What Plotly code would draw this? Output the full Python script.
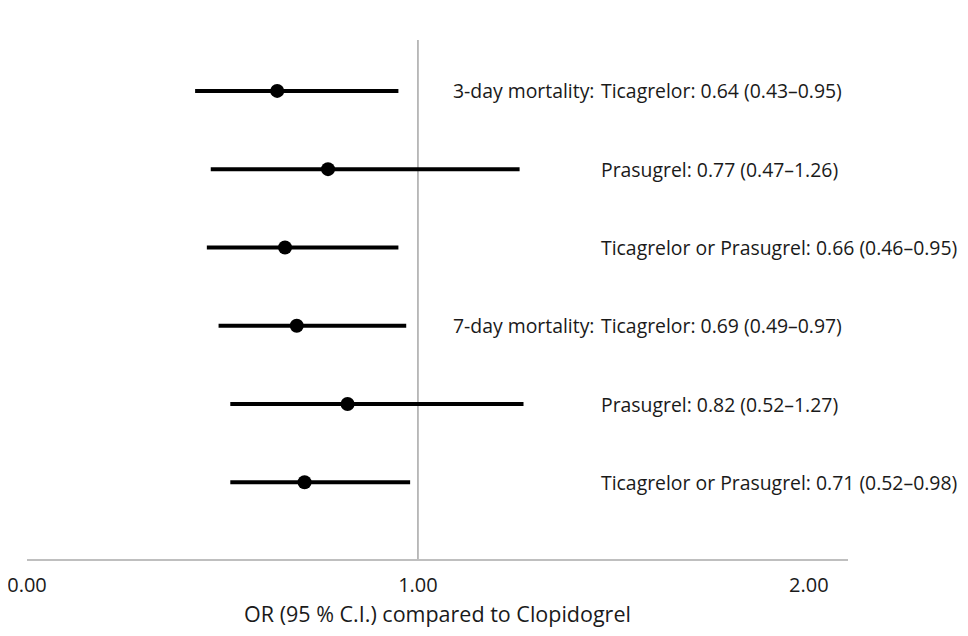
import plotly.graph_objects as go

rows = [1, 2, 3, 4, 5, 6]
prefixes = ["3-day mortality:", "", "", "7-day mortality:", "", ""]
drugs = ["Ticagrelor", "Prasugrel", "Ticagrelor or Prasugrel",
         "Ticagrelor", "Prasugrel", "Ticagrelor or Prasugrel"]
odds_ratio = [0.64, 0.77, 0.66, 0.69, 0.82, 0.71]
ci_low = [0.43, 0.47, 0.46, 0.49, 0.52, 0.52]
ci_high = [0.95, 1.26, 0.95, 0.97, 1.27, 0.98]
tick_vals = [0, 1, 2]
tick_text = ["0.00", "1.00", "2.00"]
x_title = "OR (95 % C.I.) compared to Clopidogrel"

FONT = "Open Sans"
TXT = "#1a1a1a"
LBL = 19.4

fig = go.Figure()
fig.add_trace(go.Scatter(
    x=odds_ratio, y=rows, mode="markers",
    marker=dict(size=14, color="black"),
    error_x=dict(type="data", symmetric=False,
                 array=[h - o for h, o in zip(ci_high, odds_ratio)],
                 arrayminus=[o - l for o, l in zip(odds_ratio, ci_low)],
                 thickness=4, width=0, color="black"),
    showlegend=False, hoverinfo="skip", cliponaxis=False,
))

fig.add_shape(type="line", xref="x", yref="paper", x0=1, x1=1, y0=0, y1=1,
              line=dict(color="#a6a6a6", width=1.5), layer="below")

label_x = 0.697
for r, p, d, o, l, h in zip(rows, prefixes, drugs, odds_ratio, ci_low, ci_high):
    fig.add_annotation(x=label_x, xref="paper", y=r, yref="y", xanchor="left",
                       text=f"{d}: {o:.2f} ({l:.2f}\u2013{h:.2f})", showarrow=False,
                       font=dict(family=FONT, size=LBL, color=TXT))
    if p:
        fig.add_annotation(x=label_x, xref="paper", y=r, yref="y", xanchor="right",
                           xshift=-3, text=p, showarrow=False,
                           font=dict(family=FONT, size=LBL, color=TXT))

fig.update_layout(
    width=952, height=620,
    margin=dict(l=19, r=112, t=32, b=69),
    paper_bgcolor="white", plot_bgcolor="white",
    font=dict(family=FONT, size=LBL, color=TXT),
    xaxis=dict(range=[0, 2.1], tickvals=tick_vals, ticktext=tick_text,
               showgrid=False, zeroline=False, showline=True, automargin=False,
               ticklabeloverflow="allow",
               linecolor="#bfbfbf", linewidth=1.5, ticks="", ticklabelstandoff=7,
               tickfont=dict(family=FONT, size=20, color=TXT),
               title=dict(text=x_title, font=dict(family=FONT, size=21.5, color=TXT),
                          standoff=12)),
    yaxis=dict(range=[6.98, 0.35], showgrid=False, zeroline=False, automargin=False,
               showline=False, showticklabels=False, ticks=""),
)

fig.write_html("out.html")
